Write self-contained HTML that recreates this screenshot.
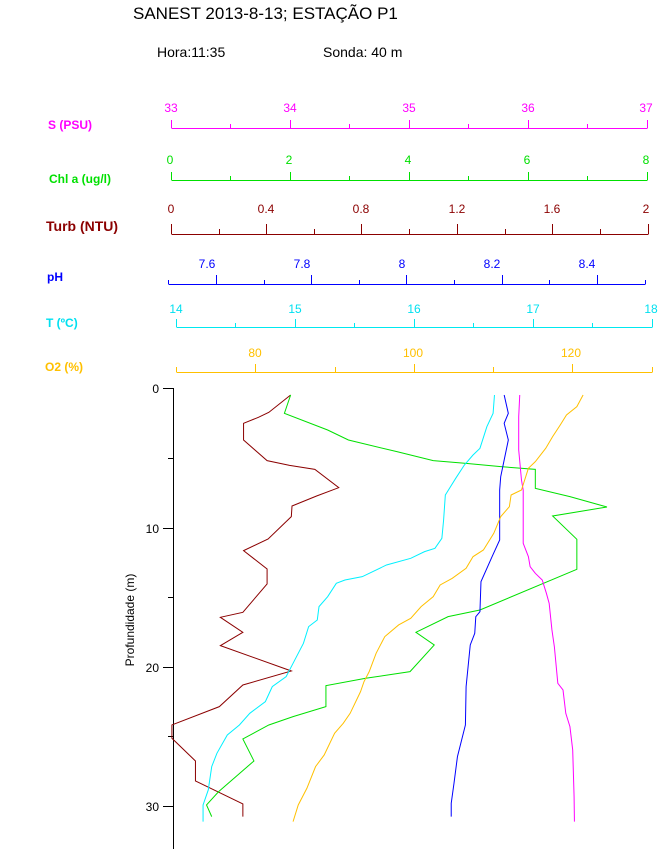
<!DOCTYPE html>
<html><head><meta charset="utf-8"><style>
body{margin:0;background:#fff;}
svg{display:block;font-family:"Liberation Sans",sans-serif;}
</style></head><body>
<svg width="660" height="849" viewBox="0 0 660 849" xmlns="http://www.w3.org/2000/svg">
<text x="133" y="19" font-size="17">SANEST 2013-8-13; ESTAÇÃO P1</text>
<text x="157" y="57" font-size="14">Hora:11:35</text>
<text x="323" y="57" font-size="14">Sonda: 40 m</text>

<!-- S -->
<g stroke="#ff00ff" fill="none"><path d="M171.5 128.5H647.5M171.5 120V128M290.5 120V128M409.5 120V128M528.5 120V128M647.5 120V128M230.5 124V128M349.5 124V128M468.5 124V128M587.5 124V128"/></g>
<g fill="#ff00ff" font-size="12" text-anchor="middle"><text x="171" y="112">33</text><text x="290" y="112">34</text><text x="409" y="112">35</text><text x="528" y="112">36</text><text x="646" y="112">37</text></g>
<text x="48" y="129" fill="#ff00ff" font-size="12" font-weight="bold">S (PSU)</text>
<!-- Chl -->
<g stroke="#00e000" fill="none"><path d="M171.5 180.5H647.5M171.5 172V180M290.5 172V180M409.5 172V180M528.5 172V180M647.5 172V180M230.5 176V180M349.5 176V180M468.5 176V180M587.5 176V180"/></g>
<g fill="#00e000" font-size="12" text-anchor="middle"><text x="170" y="164">0</text><text x="289" y="164">2</text><text x="408" y="164">4</text><text x="527" y="164">6</text><text x="646" y="164">8</text></g>
<text x="49" y="183" fill="#00e000" font-size="12" font-weight="bold">Chl a (ug/l)</text>
<!-- Turb -->
<g stroke="#8b0000" fill="none"><path d="M171.5 234.5H648.5M171.5 224V234M266.5 224V234M361.5 224V234M457.5 224V234M552.5 224V234M648.5 224V234M219.5 229V234M314.5 229V234M409.5 229V234M505.5 229V234M600.5 229V234"/></g>
<g fill="#8b0000" font-size="12" text-anchor="middle"><text x="171" y="213">0</text><text x="266" y="213">0.4</text><text x="361" y="213">0.8</text><text x="457" y="213">1.2</text><text x="552" y="213">1.6</text><text x="646" y="213">2</text></g>
<text x="46" y="231" fill="#8b0000" font-size="14" font-weight="bold">Turb (NTU)</text>
<!-- pH -->
<g stroke="#0000ff" fill="none"><path d="M168.5 284.5H645.5M168.5 280V284M645.5 280V284M216.5 275V284M311.5 275V284M406.5 275V284M502.5 275V284M597.5 275V284M264.5 280V284M359.5 280V284M454.5 280V284M549.5 280V284"/></g>
<g fill="#0000ff" font-size="12" text-anchor="middle"><text x="207" y="268">7.6</text><text x="302" y="268">7.8</text><text x="402" y="268">8</text><text x="492" y="268">8.2</text><text x="587" y="268">8.4</text></g>
<text x="47" y="281" fill="#0000ff" font-size="12" font-weight="bold">pH</text>
<!-- T -->
<g stroke="#00e8f0" fill="none"><path d="M176.5 327.5H652.5M176.5 319V327M295.5 319V327M414.5 319V327M533.5 319V327M652.5 319V327M235.5 323V327M354.5 323V327M473.5 323V327M592.5 323V327"/></g>
<g fill="#00e0f0" font-size="12" text-anchor="middle"><text x="176" y="313">14</text><text x="295" y="313">15</text><text x="414" y="313">16</text><text x="533" y="313">17</text><text x="651" y="313">18</text></g>
<text x="46" y="327" fill="#00e0f0" font-size="12" font-weight="bold">T (ºC)</text>
<!-- O2 -->
<g stroke="#ffc000" fill="none"><path d="M176.5 372.5H652.5M176.5 367V372M652.5 367V372M255.5 364V372M414.5 364V372M572.5 364V372M335.5 367V372M493.5 367V372"/></g>
<g fill="#ffc000" font-size="12" text-anchor="middle"><text x="255" y="357">80</text><text x="413" y="357">100</text><text x="571" y="357">120</text></g>
<text x="45" y="371" fill="#ffc000" font-size="12" font-weight="bold">O2 (%)</text>

<!-- depth axis -->
<g stroke="#000" fill="none"><path d="M173.5 388V849M163 388.5H173M163 528.5H173M163 667.5H173M163 806.5H173M168 458.5H173M168 597.5H173M168 736.5H173"/></g>
<g font-size="12" text-anchor="end"><text x="159" y="393">0</text><text x="159" y="533">10</text><text x="159" y="672">20</text><text x="159" y="811">30</text></g>
<text transform="translate(134,620) rotate(-90)" font-size="12" text-anchor="middle">Profundidade (m)</text>

<g transform="translate(120,380) scale(0.3461,0.3333)" fill="none" stroke-width="1" style="vector-effect:non-scaling-stroke">
<polyline vector-effect="non-scaling-stroke" stroke="#8b0000" points="493,45 430,97 400,112 357,130 357,180 425,242 490,256 563,268 632,323 568,348 497,378 495,410 428,477 357,512 425,567 425,612 355,697 290,712 355,757 290,797 495,873 355,915 287,980 150,1035 150,1075 218,1143 218,1203 355,1272 355,1310"/>
<polyline vector-effect="non-scaling-stroke" stroke="#00e000" points="493,45 475,100 600,150 660,180 800,215 905,242 1000,250 1100,260 1200,268 1200,325 1300,350 1407,381 1250,408 1320,478 1320,568 1040,690 948,710 855,757 908,795 838,875 710,895 595,917 595,980 500,1010 430,1035 355,1077 387,1143 285,1235 250,1275 265,1310"/>
<polyline vector-effect="non-scaling-stroke" stroke="#00f0ff" points="1082,45 1078,100 1060,140 1040,205 1020,225 995,255 970,295 940,345 935,420 930,475 910,505 880,515 840,535 770,555 700,590 650,600 625,610 600,650 575,680 570,720 545,740 530,790 500,850 480,890 440,920 420,965 375,1000 345,1035 310,1065 280,1120 265,1160 255,1230 240,1275 240,1325"/>
<polyline vector-effect="non-scaling-stroke" stroke="#0000ff" points="1110,45 1122,100 1110,130 1122,180 1110,240 1100,290 1097,330 1097,480 1075,530 1043,605 1040,695 1028,710 1025,760 1012,795 1000,920 998,1035 975,1130 965,1210 957,1270 957,1310"/>
<polyline vector-effect="non-scaling-stroke" stroke="#ff00ff" points="1155,45 1152,110 1152,210 1160,300 1165,330 1165,490 1180,530 1185,560 1200,580 1220,600 1232,640 1240,670 1248,750 1255,800 1265,910 1280,930 1288,1000 1300,1040 1308,1110 1312,1250 1313,1325"/>
<polyline vector-effect="non-scaling-stroke" stroke="#ffc000" points="1338,45 1320,80 1290,105 1272,135 1250,170 1230,205 1200,245 1180,265 1160,330 1130,345 1125,380 1100,410 1080,460 1050,510 1020,530 1000,565 960,595 925,615 905,650 870,680 840,715 805,735 765,770 740,820 720,875 705,905 695,935 665,1000 645,1030 620,1060 590,1125 565,1160 540,1225 515,1275 500,1325"/>
</g>
</svg>
</body></html>
